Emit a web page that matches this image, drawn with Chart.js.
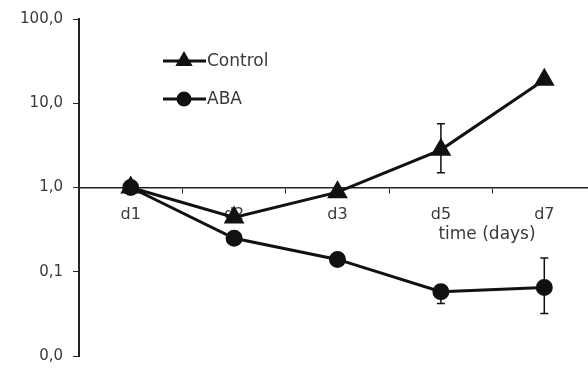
<!DOCTYPE html>
<html lang="en">
<head>
    <meta charset="UTF-8">
    <title>Control vs ABA</title>
    <script src="https://cdn.jsdelivr.net/npm/chart.js"></script>
    <style>
        html, body { margin: 0; padding: 0; background: #fff; }
        #wrap { width: 588px; height: 375px; }
    </style>
</head>
<body>
    <div id="wrap"><canvas id="chart"></canvas></div>
    <script>
        // values
        const days = ['d1', 'd2', 'd3', 'd5', 'd7'];
        const controlVals = [1.0, 0.44, 0.88, 2.8, 19];
        const controlLow = [null, null, null, 1.5, null];
        const controlHigh = [null, null, null, 5.7, null];
        const abaVals = [1.0, 0.25, 0.14, 0.058, 0.065];
        const abaLow = [null, null, null, 0.042, 0.032];
        const abaHigh = [null, null, null, null, 0.146];
        const yTicks = [0.01, 0.1, 1, 10, 100];

        const ink = '#111';
        const textCol = '#3a3a3a';
        const font = "'DejaVu Sans', 'Liberation Sans', sans-serif";

        // the plot runs past the right edge of the picture (last category is cut)
        const widenX = {
            id: 'widenX',
            afterLayout(chart) {
                const x = chart.scales.x;
                x.right = 596;
                x.width = x.right - x.left;
                x.configure();
            }
        };

        // error bars from the low/high arrays
        const errorBars = {
            id: 'errorBars',
            afterDatasetsDraw(chart) {
                const { ctx, scales } = chart;
                const sets = [[controlLow, controlHigh], [abaLow, abaHigh]];
                ctx.save();
                ctx.strokeStyle = ink;
                ctx.lineWidth = 1.5;
                sets.forEach(([lo, hi], di) => {
                    const vals = chart.data.datasets[di].data;
                    vals.forEach((v, i) => {
                        if (lo[i] == null && hi[i] == null) return;
                        const x = scales.x.getPixelForValue(i);
                        const y0 = scales.y.getPixelForValue(lo[i] ?? v);
                        const y1 = scales.y.getPixelForValue(hi[i] ?? v);
                        ctx.beginPath();
                        ctx.moveTo(x, y0); ctx.lineTo(x, y1);
                        if (lo[i] != null) { ctx.moveTo(x - 4, y0); ctx.lineTo(x + 4, y0); }
                        if (hi[i] != null) { ctx.moveTo(x - 4, y1); ctx.lineTo(x + 4, y1); }
                        ctx.stroke();
                    });
                });
                ctx.restore();
            }
        };

        // legend inside the plot + axis title
        const extras = {
            id: 'extras',
            afterDraw(chart) {
                const { ctx } = chart;
                ctx.save();
                const rows = [['Control', 'triangle', 7, 61], ['ABA', 'circle', 6, 99]];
                rows.forEach(([label, style, r, y]) => {
                    ctx.strokeStyle = ink;
                    ctx.lineWidth = 3;
                    ctx.beginPath();
                    ctx.moveTo(163, y); ctx.lineTo(206, y);
                    ctx.stroke();
                    ctx.fillStyle = ink;
                    Chart.helpers.drawPoint(ctx, { pointStyle: style, radius: r, borderWidth: 1 }, 184, y);
                    ctx.fillStyle = textCol;
                    ctx.font = '17px ' + font;
                    ctx.textBaseline = 'middle';
                    ctx.textAlign = 'left';
                    ctx.fillText(label, 207, y + 1);
                });
                ctx.font = '17px ' + font;
                ctx.textAlign = 'center';
                ctx.textBaseline = 'middle';
                ctx.fillText('time (days)', 487, 235);
                ctx.restore();
            }
        };

        new Chart(document.getElementById('chart'), {
            type: 'line',
            data: {
                labels: days,
                datasets: [{
                    label: 'Control',
                    data: controlVals,
                    borderColor: ink,
                    backgroundColor: ink,
                    borderWidth: 3,
                    pointStyle: 'triangle',
                    pointRadius: 9,
                    clip: false
                }, {
                    label: 'ABA',
                    data: abaVals,
                    borderColor: ink,
                    backgroundColor: ink,
                    borderWidth: 3,
                    pointStyle: 'circle',
                    pointRadius: 7,
                    clip: false
                }]
            },
            options: {
                responsive: true,
                maintainAspectRatio: false,
                animation: false,
                layout: { padding: { top: 12, bottom: 14, left: 0, right: 0 } },
                plugins: { legend: { display: false }, tooltip: { enabled: false } },
                scales: {
                    x: {
                        type: 'category',
                        offset: true,
                        position: { y: 1 },
                        border: { color: '#222', width: 1.5 },
                        grid: { offset: true, drawOnChartArea: false, color: '#222', tickLength: 5 },
                        ticks: { color: textCol, font: { family: font, size: 16 }, padding: 13, maxRotation: 0 }
                    },
                    y: {
                        type: 'logarithmic',
                        min: 0.01,
                        max: 100,
                        afterFit(scale) { scale.width = 79; },
                        afterBuildTicks(scale) { scale.ticks = yTicks.map(v => ({ value: v })); },
                        border: { color: '#222', width: 2 },
                        grid: { drawOnChartArea: false, color: '#222', tickLength: 6 },
                        ticks: {
                            color: textCol,
                            font: { family: font, size: 15 },
                            padding: 10,
                            callback: v => v.toFixed(1).replace('.', ',')
                        }
                    }
                }
            },
            plugins: [widenX, errorBars, extras]
        });
    </script>
</body>
</html>
